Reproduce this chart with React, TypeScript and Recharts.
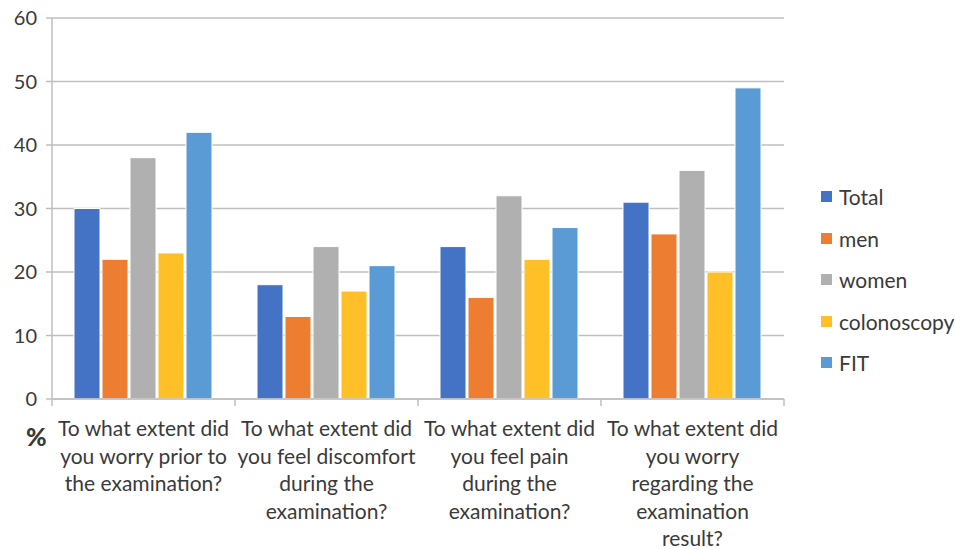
import React from 'react';
import { BarChart, Bar, XAxis, YAxis, CartesianGrid } from 'recharts';

const questions = [
  ['To what extent did', 'you worry prior to', 'the examination?'],
  ['To what extent did', 'you feel discomfort', 'during the', 'examination?'],
  ['To what extent did', 'you feel pain', 'during the', 'examination?'],
  ['To what extent did', 'you worry', 'regarding the', 'examination', 'result?'],
];

const total = [30, 18, 24, 31];
const men = [22, 13, 16, 26];
const women = [38, 24, 32, 36];
const colonoscopy = [23, 17, 22, 20];
const fit = [42, 21, 27, 49];

const yTicks = [0, 10, 20, 30, 40, 50, 60];

const series = [
  { key: 'total', name: 'Total', color: '#4472C4' },
  { key: 'men', name: 'men', color: '#ED7D31' },
  { key: 'women', name: 'women', color: '#B0B0B0' },
  { key: 'colonoscopy', name: 'colonoscopy', color: '#FFBF26' },
  { key: 'fit', name: 'FIT', color: '#5B9BD5' },
];

const data = questions.map((q, i) => ({
  name: q.join(' '),
  total: total[i],
  men: men[i],
  women: women[i],
  colonoscopy: colonoscopy[i],
  fit: fit[i],
}));

const W = 955;
const H = 549;
const margin = { top: 18, right: 171, bottom: 10, left: 0 };
const yAxisW = 52;
const band = (W - margin.left - margin.right - yAxisW) / questions.length;
const font = 'Lato, "Open Sans", sans-serif';
const textColor = '#3a3a3a';
const gridColor = '#BFBFBF';

const XTick = (props: any) => {
  const { x, y, index } = props;
  const lines: string[] = questions[index] || [];
  return (
    <g>
      <line x1={x - band / 2} x2={x - band / 2} y1={y - 8} y2={y - 1} stroke={gridColor} strokeWidth={1.5} />
      {index === questions.length - 1 && (
        <line x1={x + band / 2} x2={x + band / 2} y1={y - 8} y2={y - 1} stroke={gridColor} strokeWidth={1.5} />
      )}
      <text x={x} y={y} textAnchor="middle" fontSize={21} fill={textColor} fontFamily={font}>
        {lines.map((l, i) => (
          <tspan key={i} x={x} y={y + 29 + i * 27.5}>
            {l}
          </tspan>
        ))}
      </text>
    </g>
  );
};

export default function App() {
  return (
    <div style={{ position: 'absolute', left: 0, top: 0, width: W, height: H, background: '#fff' }}>
      <BarChart width={W} height={H} data={data} margin={margin} barGap={2} barCategoryGap={22}>
        <CartesianGrid vertical={false} stroke={gridColor} strokeWidth={1.5} />
        <XAxis
          dataKey="name"
          axisLine={{ stroke: gridColor, strokeWidth: 1.5 }}
          tickLine={false}
          tick={<XTick />}
          interval={0}
          height={140}
        />
        <YAxis
          domain={[0, 60]}
          ticks={yTicks}
          width={yAxisW}
          axisLine={{ stroke: gridColor, strokeWidth: 1.5 }}
          tickLine={{ stroke: gridColor, strokeWidth: 1.5 }}
          tickSize={6}
          tickMargin={9}
          tick={{ fill: textColor, fontSize: 20, fontFamily: font }}
        />
        {series.map((s) => (
          <Bar key={s.key} dataKey={s.key} name={s.name} fill={s.color} stroke="#fff" strokeWidth={1} isAnimationActive={false} />
        ))}
      </BarChart>
      <div
        style={{
          position: 'absolute',
          left: 821,
          top: 176,
          fontFamily: font,
          fontSize: 21,
          color: textColor,
        }}
      >
        {series.map((s) => (
          <div key={s.key} style={{ display: 'flex', alignItems: 'center', height: 41.5 }}>
            <span style={{ width: 11, height: 11, background: s.color, marginRight: 7, display: 'inline-block' }} />
            <span>{s.name}</span>
          </div>
        ))}
      </div>
      <div
        style={{
          position: 'absolute',
          left: 26,
          top: 421,
          fontFamily: font,
          fontWeight: 900,
          fontSize: 25,
          color: textColor,
        }}
      >
        %
      </div>
    </div>
  );
}
